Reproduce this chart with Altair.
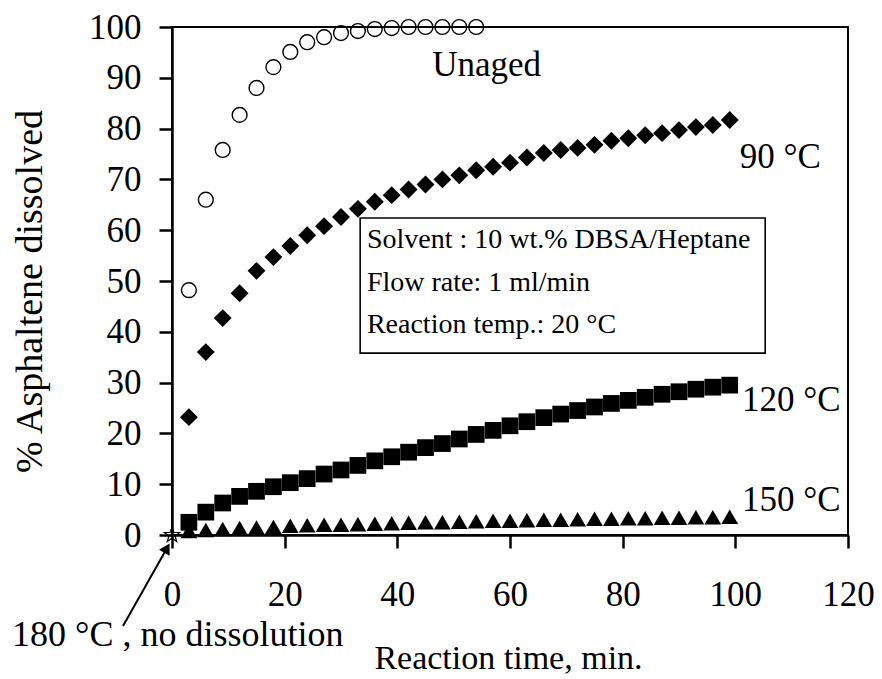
import altair as alt
import pandas as pd

FONT = "Liberation Serif"

# ---- data ----
time_unaged = [3, 6, 9, 12, 15, 18, 21, 24, 27, 30, 33, 36, 39, 42, 45, 48, 51, 54]
unaged = [48.2, 66.0, 75.8, 82.7, 88.0, 92.1, 95.1, 97.0, 98.0, 98.8, 99.2, 99.6,
          99.8, 100.0, 100.0, 100.0, 100.0, 100.0]

time_aged = [3, 6, 9, 12, 15, 18, 21, 24, 27, 30, 33, 36, 39, 42, 45, 48, 51, 54,
             57, 60, 63, 66, 69, 72, 75, 78, 81, 84, 87, 90, 93, 96, 99]
aged_90 = [23.2, 36.0, 42.7, 47.6, 52.0, 54.7, 56.9, 59.0, 60.8, 62.6, 64.2, 65.6,
           66.9, 68.0, 69.0, 70.0, 70.8, 71.8, 72.5, 73.3, 74.3, 75.2, 75.8, 76.2,
           76.8, 77.6, 78.1, 78.7, 79.1, 79.7, 80.3, 80.7, 81.7]
aged_120 = [2.5, 4.5, 6.3, 7.6, 8.6, 9.5, 10.3, 11.1, 12.0, 12.8, 13.7, 14.6, 15.4,
            16.3, 17.2, 18.0, 18.9, 19.8, 20.6, 21.5, 22.3, 23.1, 23.8, 24.5, 25.2,
            25.9, 26.5, 27.1, 27.7, 28.2, 28.7, 29.1, 29.5]
aged_150 = [0.8, 1.0, 1.2, 1.4, 1.5, 1.6, 1.8, 1.9, 2.0, 2.0, 2.1, 2.2, 2.3, 2.4,
            2.5, 2.5, 2.6, 2.7, 2.8, 2.8, 2.9, 3.0, 3.0, 3.1, 3.2, 3.2, 3.3, 3.3,
            3.4, 3.4, 3.5, 3.5, 3.6]
time_180 = [0]
aged_180 = [0]

x_ticks = [0, 20, 40, 60, 80, 100, 120]
y_ticks = [0, 10, 20, 30, 40, 50, 60, 70, 80, 90, 100]

series_labels = ["Unaged", "90 °C", "120 °C", "150 °C"]
series_label_x = [46.2, 100.8, 101.2, 101.2]
series_label_y = [92.5, 74.5, 26.6, 6.9]

box_lines = ["Solvent : 10 wt.% DBSA/Heptane", "Flow rate: 1 ml/min", "Reaction temp.: 20 °C"]
box_line_x = [34.6, 34.6, 34.6]
box_line_y = [58.1, 49.6, 41.3]
box_x = [33.4]
box_x2 = [105.3]
box_y = [35.8]
box_y2 = [62.4]

note_text = ["180 °C , no dissolution"]
note_x = [-28.4]
note_y = [-19.6]
arrow_x = [-8.7]
arrow_y = [-17.9]
arrow_x2 = [-0.9]
arrow_y2 = [-2.6]

STAR = ("M0,-1L0.235,-0.324L0.951,-0.309L0.38,0.124L0.588,0.809L0,0.4"
        "L-0.588,0.809L-0.38,0.124L-0.951,-0.309L-0.235,-0.324Z")

# ---- scales ----
xs = alt.Scale(domain=[0, 120], nice=False, zero=False)
ys = alt.Scale(domain=[0, 100], nice=False, zero=False)

x_axis = alt.Axis(values=x_ticks, title="Reaction time, min.", labelPadding=29,
                  titleY=123, titleBaseline="middle", titleX=336, titleFontSize=34)
y_axis = alt.Axis(values=y_ticks, title="% Asphaltene dissolved", labelPadding=18,
                  titleX=-142, titleY=264, titleBaseline="middle", titleAngle=-90,
                  titleFontSize=38)


def pts(t, v):
    return pd.DataFrame({"t": t, "v": v})


def enc(base):
    return base.encode(x=alt.X("t:Q", scale=xs), y=alt.Y("v:Q", scale=ys))


box_df = pd.DataFrame({"x": box_x, "x2": box_x2, "y": box_y, "y2": box_y2})
box = alt.Chart(box_df).mark_rect(fill="white", stroke="black", strokeWidth=1.6).encode(
    x=alt.X("x:Q", scale=xs, axis=x_axis), x2="x2:Q",
    y=alt.Y("y:Q", scale=ys, axis=y_axis), y2="y2:Q")

unaged_layer = enc(alt.Chart(pts(time_unaged, unaged)).mark_point(
    shape="circle", filled=False, color="black", size=220, strokeWidth=1.4, opacity=1))
d90 = enc(alt.Chart(pts(time_aged, aged_90)).mark_point(
    shape="diamond", filled=True, color="black", size=320, opacity=1))
d120 = enc(alt.Chart(pts(time_aged, aged_120)).mark_point(
    shape="square", filled=True, color="black", size=280, opacity=1))
d150 = enc(alt.Chart(pts(time_aged, aged_150)).mark_point(
    shape="triangle-up", filled=True, color="black", size=280, opacity=1))
d180 = enc(alt.Chart(pts(time_180, aged_180)).mark_point(
    shape=STAR, filled=False, color="black", size=260, strokeWidth=1.2, opacity=1))

lab_df = pd.DataFrame({"x": series_label_x, "y": series_label_y, "txt": series_labels})
labels = alt.Chart(lab_df).mark_text(font=FONT, fontSize=35, align="left",
                                     baseline="middle", color="black").encode(
    x=alt.X("x:Q", scale=xs), y=alt.Y("y:Q", scale=ys), text="txt:N")

bl_df = pd.DataFrame({"x": box_line_x, "y": box_line_y, "txt": box_lines})
box_text = alt.Chart(bl_df).mark_text(font=FONT, fontSize=28, align="left",
                                      baseline="middle", color="black").encode(
    x=alt.X("x:Q", scale=xs), y=alt.Y("y:Q", scale=ys), text="txt:N")

note_df = pd.DataFrame({"x": note_x, "y": note_y, "txt": note_text})
note = alt.Chart(note_df).mark_text(font=FONT, fontSize=36, align="left",
                                    baseline="middle", color="black").encode(
    x=alt.X("x:Q", scale=xs), y=alt.Y("y:Q", scale=ys), text="txt:N")

arrow_df = pd.DataFrame({"x": arrow_x, "y": arrow_y, "x2": arrow_x2, "y2": arrow_y2})
arrow = alt.Chart(arrow_df).mark_rule(color="black", strokeWidth=2).encode(
    x=alt.X("x:Q", scale=xs), y=alt.Y("y:Q", scale=ys), x2="x2:Q", y2="y2:Q")
head = alt.Chart(arrow_df).mark_point(shape="triangle-up", filled=True, color="black",
                                      size=150, angle=30, opacity=1).encode(
    x=alt.X("x2:Q", scale=xs), y=alt.Y("y2:Q", scale=ys))

chart = alt.layer(box, d150, d120, d90, unaged_layer, d180, labels, box_text, note,
                  arrow, head).properties(
    width=676, height=508,
    autosize=alt.AutoSizeParams(type="none"),
    padding={"left": 164, "top": 19, "right": 26, "bottom": 144},
    background="white",
).configure_view(stroke="black", strokeWidth=2).configure_axis(
    grid=False, labelFont=FONT, titleFont=FONT, labelFontSize=35, titleFontSize=34,
    titleFontWeight="normal", labelColor="black", titleColor="black",
    domainColor="black", domainWidth=2.5, tickColor="black", tickWidth=2.5,
    tickSize=13, labelOverlap=False, labelFlush=False)

chart.save("out.html", embed_options={"renderer": "svg", "actions": False})
